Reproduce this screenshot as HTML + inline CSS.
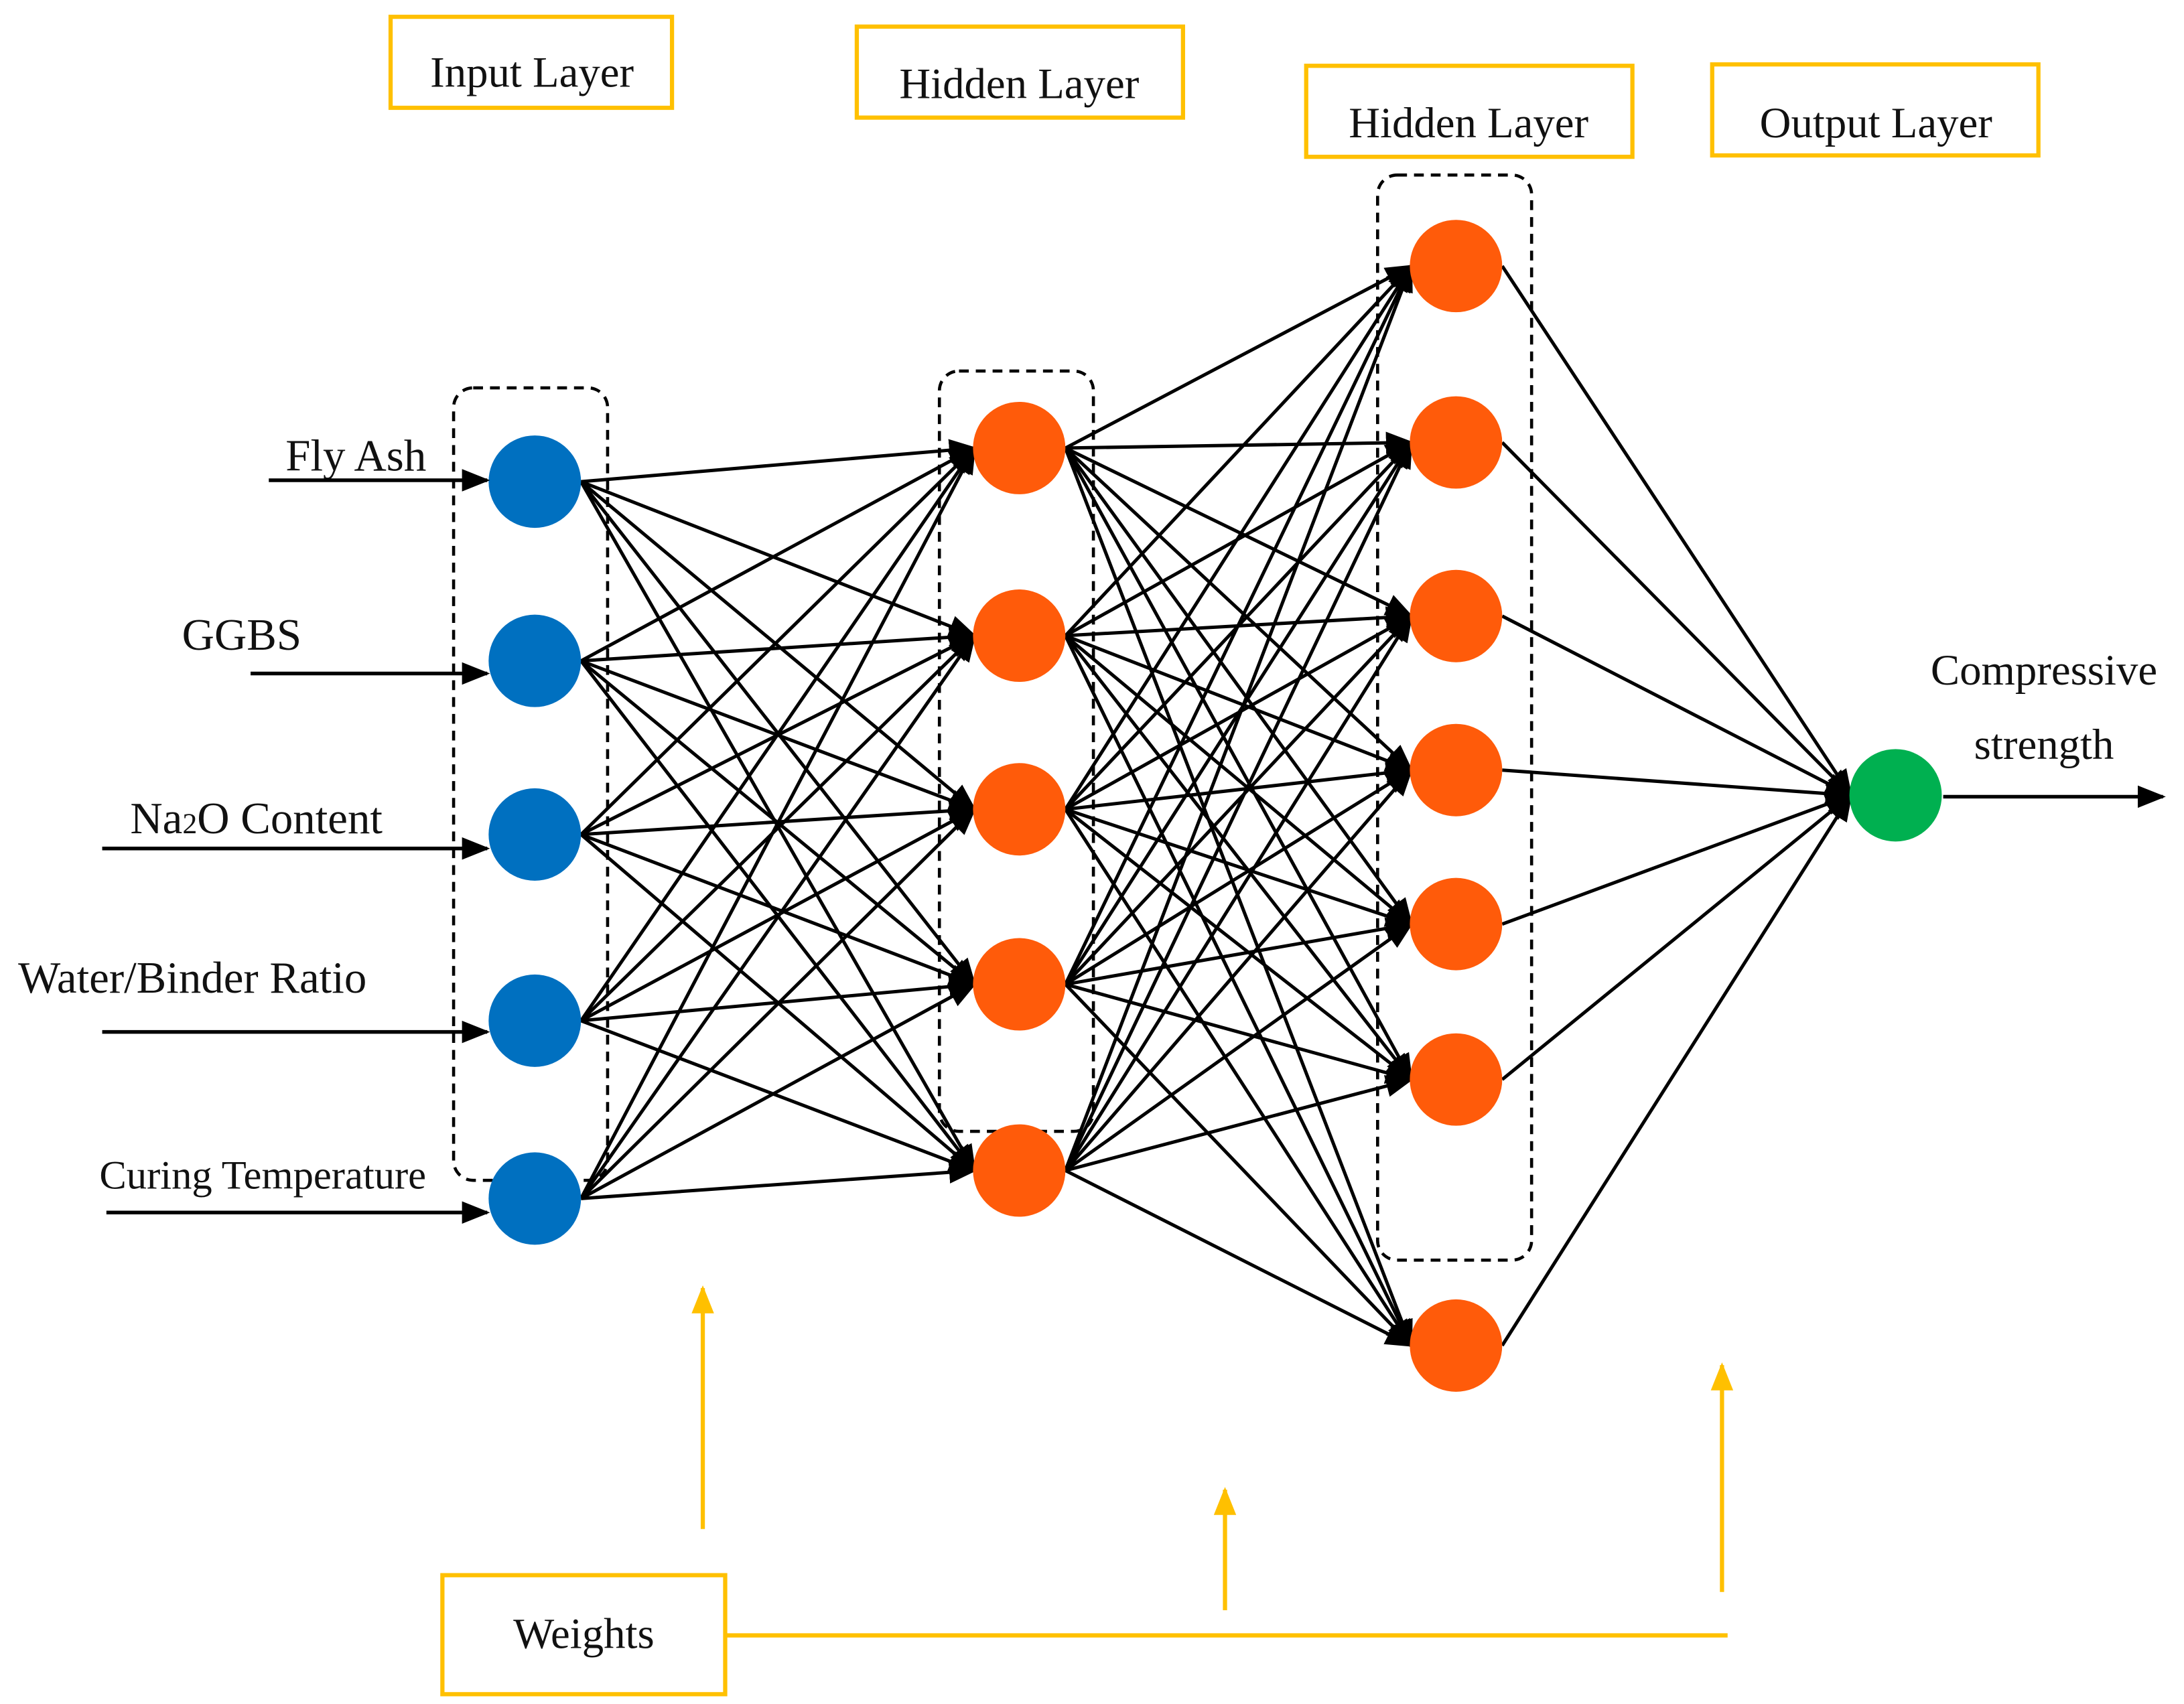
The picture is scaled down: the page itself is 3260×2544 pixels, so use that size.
<!DOCTYPE html>
<html><head><meta charset="utf-8"><style>
html,body{margin:0;padding:0;background:#fff;}
svg{display:block;}
text{font-family:"Liberation Serif",serif;fill:#111;}
</style></head><body>
<svg width="3260" height="2544" viewBox="0 0 1560 1217" preserveAspectRatio="none" xmlns="http://www.w3.org/2000/svg">
<defs>
<marker id="ab" viewBox="0 0 10 10" refX="9" refY="5" markerWidth="20" markerHeight="20" orient="auto" markerUnits="userSpaceOnUse">
<path d="M0,1 L10,5 L0,9 z" fill="#000"/></marker>
<marker id="ay" viewBox="0 0 10 10" refX="9" refY="5" markerWidth="20" markerHeight="20" orient="auto" markerUnits="userSpaceOnUse">
<path d="M0,1 L10,5 L0,9 z" fill="#FFC000"/></marker>
</defs>
<g stroke="#000" stroke-width="2.4" fill="none" id="edges"></g>
<g stroke="#000" stroke-width="2.2" fill="none" stroke-dasharray="7,5">
<rect x="324" y="277" width="110" height="566" rx="14"/>
<rect x="671" y="265" width="110" height="543" rx="14"/>
<rect x="984" y="125" width="110" height="775" rx="14"/>
</g>
<g id="nodes"></g>
<g stroke="#FFC000" stroke-width="3" fill="none">
<rect x="279" y="12" width="201" height="65"/>
<rect x="612" y="19" width="233" height="65"/>
<rect x="933" y="47" width="233" height="65"/>
<rect x="1223" y="46" width="233" height="65"/>
<rect x="316" y="1125" width="202" height="85"/>
<line x1="518" y1="1168" x2="1234" y2="1168"/>
<line x1="502" y1="1092" x2="502" y2="920" marker-end="url(#ay)"/>
<line x1="875" y1="1150" x2="875" y2="1064" marker-end="url(#ay)"/>
<line x1="1230" y1="1137" x2="1230" y2="975" marker-end="url(#ay)"/>
</g>
<g font-size="31" text-anchor="middle">
<text x="380" y="62">Input Layer</text>
<text x="728" y="70">Hidden Layer</text>
<text x="1049" y="98">Hidden Layer</text>
<text x="1340" y="98">Output Layer</text>
<text x="417" y="1177">Weights</text>
<text x="1460" y="489">Compressive</text>
<text x="1460" y="542">strength</text>
</g>
<g font-size="32">
<text x="204" y="336">Fly Ash</text>
<text x="130" y="464">GGBS</text>
<text x="93" y="595">Na<tspan font-size="21">2</tspan>O Content</text>
<text x="13" y="709">Water/Binder Ratio</text>
<text x="71" y="849" font-size="29">Curing Temperature</text>
</g>
<g stroke="#000" stroke-width="2.6">
<line x1="192" y1="343" x2="348" y2="343" marker-end="url(#ab)"/>
<line x1="179" y1="481" x2="348" y2="481" marker-end="url(#ab)"/>
<line x1="73" y1="606" x2="348" y2="606" marker-end="url(#ab)"/>
<line x1="73" y1="737" x2="348" y2="737" marker-end="url(#ab)"/>
<line x1="76" y1="866" x2="348" y2="866" marker-end="url(#ab)"/>
<line x1="1388" y1="569" x2="1545" y2="569" marker-end="url(#ab)"/>
</g>
<script>
var ns="http://www.w3.org/2000/svg";
var I=[344,472,596,729,856],H1=[320,454,578,703,836],H2=[190,316,440,550,660,771,961];
var E=document.getElementById("edges"),N=document.getElementById("nodes");
function ln(x1,y1,x2,y2){var l=document.createElementNS(ns,"line");l.setAttribute("x1",x1);l.setAttribute("y1",y1);l.setAttribute("x2",x2);l.setAttribute("y2",y2);l.setAttribute("marker-end","url(#ab)");E.appendChild(l);}
I.forEach(function(a){H1.forEach(function(b){ln(415,a,696,b);});});
H1.forEach(function(a){H2.forEach(function(b){ln(761,a,1008,b);});});
H2.forEach(function(a){ln(1073,a,1322,568);});
function c(x,y,f){var e=document.createElementNS(ns,"circle");e.setAttribute("cx",x);e.setAttribute("cy",y);e.setAttribute("r",33);e.setAttribute("fill",f);N.appendChild(e);}
I.forEach(function(y){c(382,y,"#0070C0");});
H1.forEach(function(y){c(728,y,"#FF5B0A");});
H2.forEach(function(y){c(1040,y,"#FF5B0A");});
c(1354,568,"#00B050");
</script>
</svg>
</body></html>
